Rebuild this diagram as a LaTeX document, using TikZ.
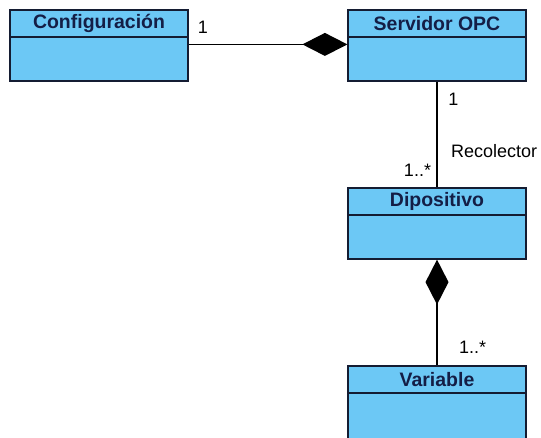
\documentclass[tikz,border=0pt]{standalone}
\usepackage{fontspec}
\setmainfont{Liberation Sans}
\usepackage{tikz}
\usetikzlibrary{positioning,arrows.meta}
\definecolor{clsfill}{RGB}{108,200,245}
\definecolor{clstext}{RGB}{20,30,70}
\definecolor{clsline}{RGB}{20,28,50}

\begin{document}
\begin{tikzpicture}[
  x=0.75pt, y=-0.75pt,
  hdr/.style={
    rectangle, draw=clsline, fill=clsfill, line width=0.9pt,
    minimum width=133.5pt, minimum height=20.25pt, inner sep=0pt,
    text=clstext, font=\fontsize{14.6}{16}\selectfont\bfseries
  },
  bdy/.style={
    rectangle, draw=clsline, fill=clsfill, line width=0.9pt,
    minimum width=133.5pt, minimum height=#1, inner sep=0pt
  },
  lbl/.style={font=\fontsize{13.5}{16}\selectfont, inner sep=0pt},
  comp/.style={line width=1pt, draw=black},
  compdiam/.tip={Diamond[length=33.75pt, width=17.25pt]},
]
\useasboundingbox (0,0) rectangle (541,437);

% ---- classes: header on top, empty body below ----
\node[bdy=33pt] (conf-b) at (99, 59) {};
\node[hdr] (conf) at (99, 23.5) {Configuración};

\node[bdy=33pt] (serv-b) at (437, 59) {};
\node[hdr] (serv) at (437, 23.5) {Servidor OPC};

\node[bdy=33pt] (dip-b) at (437, 237) {};
\node[hdr] (dip) at (437, 201.5) {Dipositivo};

\node[bdy=34.5pt] (var-b) at (437, 416) {};
\node[hdr] (var) at (437, 379.5) {Variable};

% ---- Configuracion is part of Servidor OPC ----
\draw[comp, -compdiam] ([yshift=-6pt]conf-b.north east) -- ([yshift=-6pt]serv-b.north west);
\node[lbl] (conf-m) at (203, 27) {1};

% ---- Servidor OPC to Dipositivo ----
\draw[comp] (serv-b.south) -- (dip.north)
  node[pos=0.17, right=8pt, lbl] (serv-m) {1}
  node[pos=0.66, right=10pt, lbl] (rec) {Recolector}
  node[pos=0.84, left=4pt, lbl] (dip-m) {1..*};

% ---- Variable is part of Dipositivo ----
\draw[comp, compdiam-] (dip-b.south) -- (var.north)
  node[pos=0.83, right=16pt, lbl] (var-m) {1..*};

\end{tikzpicture}
\end{document}
